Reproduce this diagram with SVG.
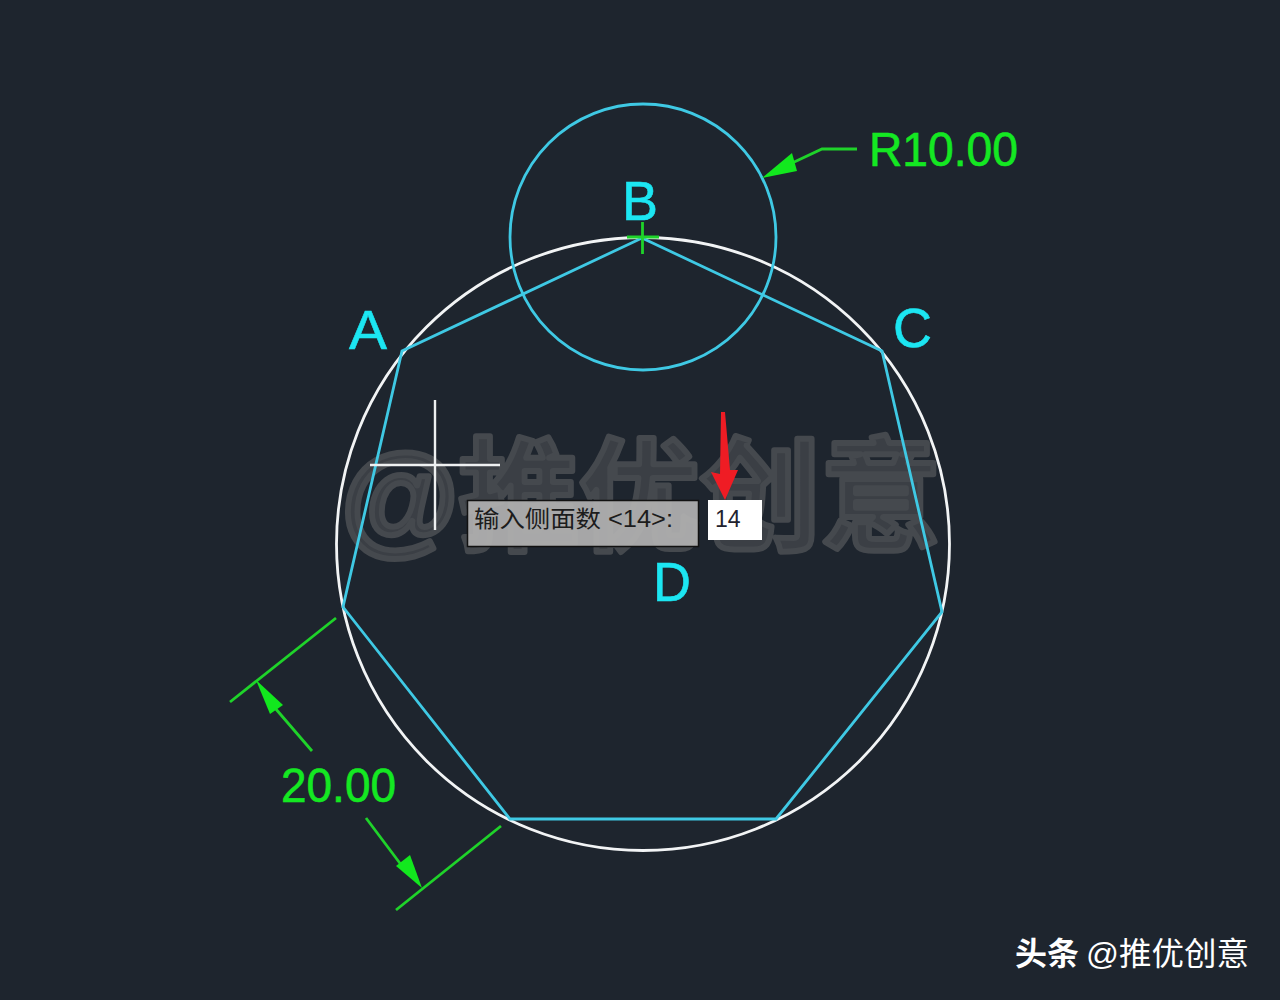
<svg xmlns="http://www.w3.org/2000/svg" width="1280" height="1000" viewBox="0 0 1280 1000">
<style>
.geo{fill:none;stroke:#3fc9e4;stroke-width:2.800}
.wht{fill:none;stroke:#f2f4f5;stroke-width:2.800}
.grn{fill:none;stroke:#1fd32a;stroke-width:2.800}
.ah{fill:#12e81e;stroke:none}
.cy{font-family:"Liberation Sans",Arial,sans-serif;font-size:55px;fill:#1ce6f2;stroke:#1ce6f2;stroke-width:.6}
.gt{font-family:"Liberation Sans",Arial,sans-serif;font-size:49px;fill:#14e822;stroke:#14e822;stroke-width:.6}
.cj{font-family:"Liberation Sans","Noto Sans CJK SC",sans-serif}
</style>
<rect width="1280" height="1000" fill="#1e252e"/>
<g id="watermark">
<text x="341" y="540" class="cj" font-size="122" font-weight="700" fill="#3b3f45" stroke="#45494e" stroke-width="6" stroke-linejoin="round" textLength="600" lengthAdjust="spacingAndGlyphs">@推优创意</text>
</g>
<g id="large-circle"><circle cx="643" cy="544" r="306.500" class="wht"/></g>
<g id="small-circle"><circle cx="643" cy="237" r="133" class="geo"/></g>
<g id="polygon"><polygon points="642,238 882,351 942,612 776,819 510,819 343,607 402,351" class="geo"/></g>
<g id="connectors">
<path class="grn" d="M627 237H659M642.500 222V254"/>
<path class="grn" d="M857 149H822L790 164"/>
<polygon class="ah" points="762,178 792,153 797,171"/>
<path class="grn" d="M230 702L336 618M396 910L501 826M312 751L275 708M366 818L402 866"/>
<polygon class="ah" points="256,680 283,705 270,714"/>
<polygon class="ah" points="422,888 396,866 410,855"/>
</g>
<g id="crosshair"><path d="M370 465H500M435 400V530" fill="none" stroke="#eef0f1" stroke-width="2.400"/></g>
<g id="label-a"><text x="349" y="349" class="cy" textLength="38" lengthAdjust="spacingAndGlyphs">A</text></g>
<g id="label-b"><text x="622" y="220" class="cy" textLength="36" lengthAdjust="spacingAndGlyphs">B</text></g>
<g id="label-c"><text x="893" y="347" class="cy" textLength="39" lengthAdjust="spacingAndGlyphs">C</text></g>
<g id="label-d"><text x="653" y="601" class="cy" textLength="38" lengthAdjust="spacingAndGlyphs">D</text></g>
<g id="label-r"><text x="869" y="166" class="gt" textLength="149" lengthAdjust="spacingAndGlyphs">R10.00</text></g>
<g id="label-20"><text x="281" y="802" class="gt" textLength="115" lengthAdjust="spacingAndGlyphs">20.00</text></g>
<g id="prompt">
<rect x="467.500" y="500.500" width="231" height="46" fill="#b0b0b0" fill-opacity=".93" stroke="#111" stroke-width="1.500"/>
<text x="474" y="527" class="cj" font-size="23" fill="#1c1c1c" textLength="199" lengthAdjust="spacingAndGlyphs">输入侧面数 &lt;14&gt;:</text>
</g>
<g id="input">
<rect x="708" y="500" width="54" height="40" fill="#fff"/>
<text x="715" y="527" font-family="'Liberation Sans',Arial,sans-serif" font-size="23" fill="#22222e">14</text>
</g>
<g id="red-arrow"><polygon points="721,412 725,412 730,470 738,470 725,500 711,472 720,474" fill="#ef1c24"/></g>
<g id="credit"><text x="1015" y="965" class="cj" font-size="32" font-weight="700" fill="#fff" textLength="64" lengthAdjust="spacingAndGlyphs">头条</text><text x="1086" y="965" class="cj" font-size="32" fill="#fff" textLength="163" lengthAdjust="spacingAndGlyphs">@推优创意</text></g>
</svg>
